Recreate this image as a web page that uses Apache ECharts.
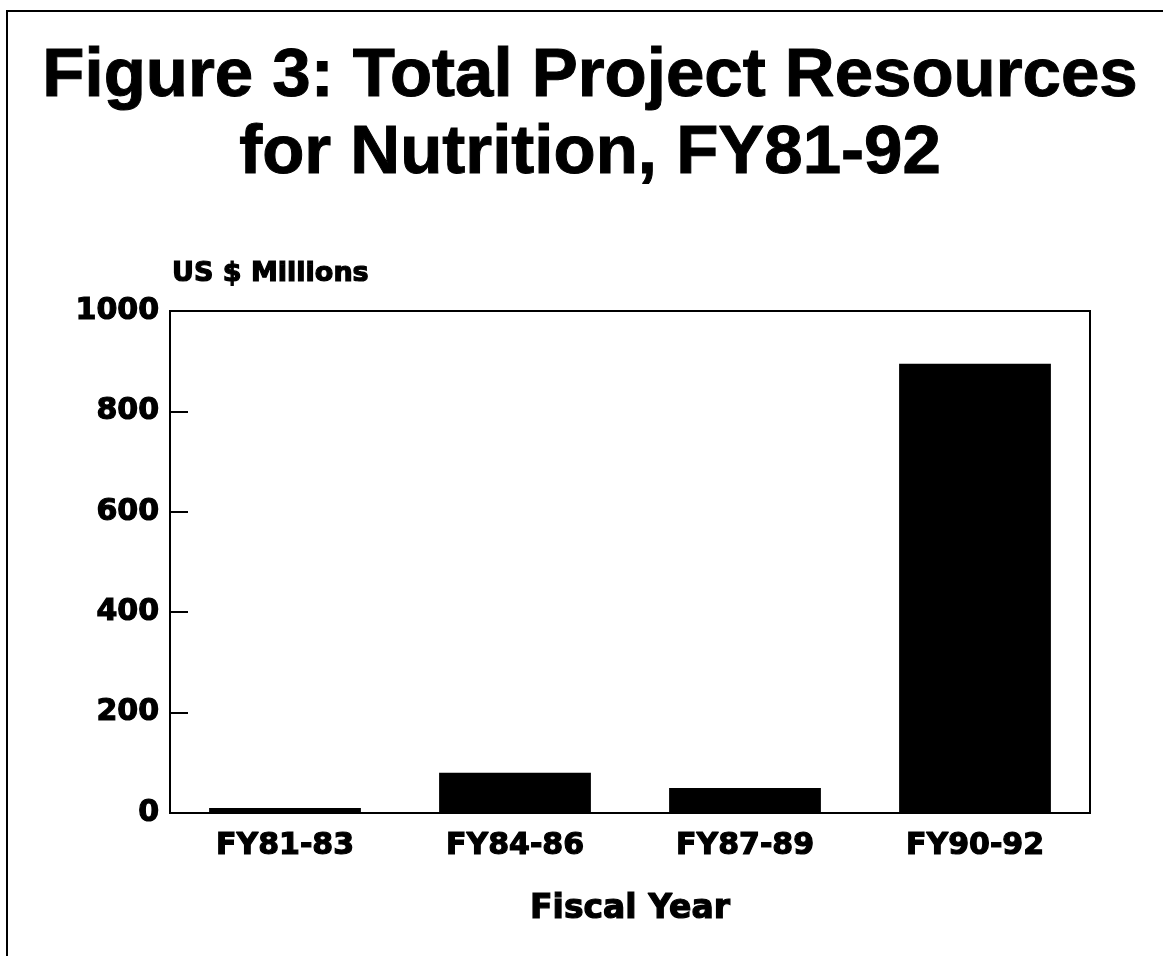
<!DOCTYPE html>
<html>
<head>
<meta charset="utf-8">
<title>Figure 3: Total Project Resources for Nutrition, FY81-92</title>
<script src="https://cdn.jsdelivr.net/npm/echarts@6/dist/echarts.min.js"></script>
<style>
  html, body { margin: 0; padding: 0; background: #fff; }
  #chart { width: 1163px; height: 956px; }
</style>
</head>
<body>
<div id="chart"></div>
<script>
const categories = ['FY81-83', 'FY84-86', 'FY87-89', 'FY90-92']
const resources = [10, 80, 50, 895]
const yTicks = { min: 0, max: 1000, interval: 200 }

const labelFont = 'DejaVu Sans'

// heavy "black" look of the scanned labels: fill plus a thin same-colour outline
const heavy = {
  fontFamily: labelFont,
  fontWeight: 'bold',
  color: '#000',
  textBorderColor: '#000',
  textBorderWidth: 1.2
}

const chart = echarts.init(document.getElementById('chart'), null, { renderer: 'canvas' })

const option = {
  backgroundColor: '#ffffff',
  animation: false,
  title: {
    text: 'Figure 3: Total Project Resources\nfor Nutrition, FY81-92',
    left: 590,
    top: 38,
    textAlign: 'center',
    padding: 0,
    textStyle: {
      fontFamily: 'Liberation Sans',
      fontWeight: 'bold',
      fontSize: 69,
      lineHeight: 77,
      color: '#000',
      textBorderColor: '#000',
      textBorderWidth: 1
    }
  },
  // page frame: only the top and left edges show in the scan
  graphic: [
    {
      type: 'rect',
      shape: { x: 7, y: 11, width: 1300, height: 1100 },
      style: { fill: 'none', stroke: '#000', lineWidth: 2 },
      silent: true
    }
  ],
  grid: {
    left: 170,
    right: 73,
    top: 311,
    bottom: 143,
    show: true,
    borderColor: '#000',
    borderWidth: 2,
    backgroundColor: 'transparent'
  },
  xAxis: {
    type: 'category',
    data: categories,
    name: 'Fiscal Year',
    nameLocation: 'middle',
    nameGap: 80,
    nameTextStyle: { ...heavy, fontSize: 33 },
    axisLine: { show: true, lineStyle: { color: '#000', width: 2 } },
    axisTick: { show: false },
    axisLabel: { ...heavy, margin: 18, fontSize: 30 }
  },
  yAxis: {
    type: 'value',
    min: yTicks.min,
    max: yTicks.max,
    interval: yTicks.interval,
    name: 'US $ Millions',
    nameLocation: 'end',
    nameGap: 24,
    nameTextStyle: { ...heavy, align: 'left', padding: [0, 0, 0, 2], fontSize: 27 },
    splitLine: { show: false },
    axisLine: { show: true, lineStyle: { color: '#000', width: 2 } },
    axisTick: { show: true, inside: true, length: 18, lineStyle: { color: '#000', width: 2 } },
    axisLabel: {
      ...heavy,
      margin: 11,
      fontSize: 30,
      formatter: (v) => String(v)
    }
  },
  series: [
    {
      name: 'Total Project Resources',
      type: 'bar',
      data: resources,
      barWidth: '66%',
      itemStyle: { color: '#000' }
    }
  ]
}

chart.setOption(option)
</script>
</body>
</html>
